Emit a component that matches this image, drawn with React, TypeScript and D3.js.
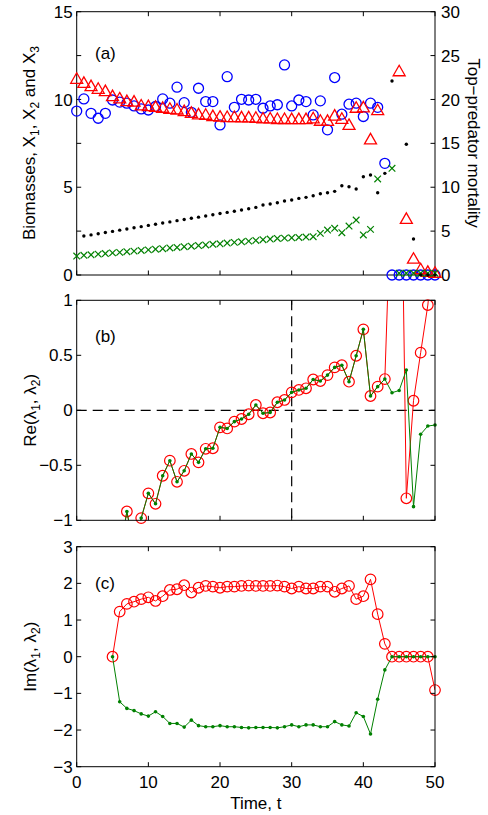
import React from "react";
import * as d3 from "d3";

// ---------- DATA ----------
const timesA = [0,1,2,3,4,5,6,7,8,9,10,11,12,13,14,15,16,17,18,19,20,21,22,23,24,25,26,27,28,29,30,31,32,33,34,35,36,37,38,39,40,41,42,43,44,45,46,47,48,49,50];
// X1 (blue circles), left axis
const biomassBlue: (number | null)[] = [9.34,10.03,9.21,8.93,9.21,9.97,9.85,9.79,9.63,9.46,9.40,9.60,10.03,9.79,10.70,9.82,9.27,10.64,9.88,9.88,8.55,11.30,9.55,10.01,9.97,10.01,9.50,9.63,9.70,11.97,9.63,9.97,9.88,9.12,9.92,8.27,11.25,9.16,9.73,9.79,9.03,9.79,9.55,6.36,0,0,0,0,0,0,0];
// X2 (red triangles), left axis
const biomassRed: (number | null)[] = [11.15,10.92,10.73,10.58,10.45,10.16,10.03,9.88,9.85,9.63,9.59,9.55,9.50,9.44,9.40,9.31,9.21,9.12,9.10,9.02,8.99,8.97,8.97,8.95,8.95,8.93,8.89,8.89,8.86,8.86,8.85,8.85,8.85,8.90,8.76,8.75,9.05,8.87,8.52,9.50,9.52,7.70,9.36,null,null,11.58,3.17,0.90,0.30,0.15,0.10];
// X3 (green crosses), left axis
const biomassGreen: (number | null)[] = [1.08,1.12,1.15,1.19,1.22,1.26,1.29,1.33,1.36,1.40,1.43,1.47,1.50,1.54,1.57,1.61,1.64,1.68,1.71,1.75,1.78,1.82,1.86,1.89,1.93,1.97,2.01,2.05,2.08,2.10,2.12,2.14,2.16,2.18,2.37,2.56,2.66,2.41,2.79,3.13,2.28,2.60,5.47,null,6.08,0.10,0.10,0.10,0.10,0.10,0.10];
// top-predator mortality (black dots), right axis
const mortality: (number | null)[] = [null,4.44,4.57,4.70,4.84,4.97,5.11,5.24,5.38,5.51,5.65,5.78,5.92,6.05,6.19,6.32,6.46,6.59,6.73,6.86,7.00,7.13,7.27,7.40,7.55,7.70,7.97,8.09,8.24,8.43,8.54,8.73,8.85,9.03,9.26,9.37,9.53,10.17,10.06,9.80,11.20,11.39,9.37,11.58,22.10,null,14.90,4.10,0,0,0];

const timesB = [5,6,7,8,9,10,11,12,13,14,15,16,17,18,19,20,21,22,23,24,25,26,27,28,29,30,31,32,33,34,35,36,37,38,39,40,41,42,43,44,45,46,47,48,49,50];
const reLambda1 = [-1.6,-1.3,-0.92,-1.25,-0.98,-0.755,-0.85,-0.595,-0.458,-0.65,-0.55,-0.397,-0.473,-0.35,-0.345,-0.155,-0.165,-0.103,-0.079,-0.036,0.048,-0.027,-0.02,0.073,0.094,0.163,0.185,0.2,0.28,0.266,0.32,0.39,0.41,0.26,0.496,0.736,0.13,0.215,0.284,2.2,3.7,-0.8,0.087,0.524,0.957,1.6];
const reLambda2 = [-1.4,-1.3,-0.92,-1.25,-0.98,-0.755,-0.85,-0.595,-0.458,-0.65,-0.55,-0.397,-0.473,-0.35,-0.345,-0.155,-0.165,-0.103,-0.079,-0.036,0.048,-0.027,-0.02,0.073,0.094,0.163,0.185,0.2,0.28,0.266,0.32,0.39,0.41,0.26,0.496,0.736,0.13,0.215,0.284,0.16,0.18,0.366,-0.876,-0.218,-0.143,-0.134];
const imLambda1 = [0,1.23,1.44,1.50,1.57,1.62,1.52,1.65,1.82,1.84,1.95,1.75,1.88,1.93,1.91,1.88,1.91,1.91,1.93,1.94,1.93,1.93,1.93,1.94,1.91,1.86,1.91,1.86,1.86,1.91,1.91,1.77,1.86,1.93,1.57,1.65,2.11,1.16,0.35,0,0,0,0,0,0,-0.91];
const imLambda2 = [0,-1.23,-1.41,-1.47,-1.56,-1.62,-1.50,-1.63,-1.82,-1.82,-1.92,-1.73,-1.88,-1.91,-1.91,-1.88,-1.91,-1.91,-1.93,-1.94,-1.93,-1.93,-1.93,-1.94,-1.91,-1.86,-1.91,-1.86,-1.86,-1.91,-1.91,-1.77,-1.86,-1.89,-1.53,-1.63,-2.11,-1.16,-0.36,0,0,0,0,0,0,0];

const xTicks = [0,10,20,30,40,50];
const yTicksA = [0,5,10,15];
const yTicksA2 = [0,5,10,15,20,25,30];
const yTicksB = [-1,-0.5,0,0.5,1];
const yTicksC = [-3,-2,-1,0,1,2,3];

// ---------- LAYOUT ----------
const W = 488, H = 815;
const L = 76.7, R = 435;
const FONT = "'Liberation Sans', Arial, Helvetica, sans-serif";
const FS = 17, SUB = 12;
const RED = "#ff0000", BLUE = "#0000ff", GREEN = "#008000";

const x = d3.scaleLinear().domain([0, 50]).range([L, R]);
const yA = d3.scaleLinear().domain([0, 15]).range([275, 11.7]);
const yA2 = d3.scaleLinear().domain([0, 30]).range([275, 11.7]);
const yB = d3.scaleLinear().domain([-1, 1]).range([520.3, 300.3]);
const yC = d3.scaleLinear().domain([-3, 3]).range([766.7, 546.7]);

const fmt = (v: number) => (v < 0 ? "\u2212" + String(Math.abs(v)) : String(v));
const TL = 4.5;

function Frame({ y, ys }: { y: d3.ScaleLinear<number, number>; ys: number[] }) {
  const [b, t] = y.range();
  return (
    <g>
      <rect x={L} y={t} width={R - L} height={b - t} fill="none" stroke="#000" strokeWidth={1} />
      {xTicks.map((v) => (
        <g key={"x" + v}>
          <line x1={x(v)} x2={x(v)} y1={b} y2={b - TL} stroke="#000" />
          <line x1={x(v)} x2={x(v)} y1={t} y2={t + TL} stroke="#000" />
        </g>
      ))}
      {ys.map((p, i) => (
        <g key={"y" + i}>
          <line x1={L} x2={L + TL} y1={p} y2={p} stroke="#000" />
          <line x1={R} x2={R - TL} y1={p} y2={p} stroke="#000" />
        </g>
      ))}
    </g>
  );
}

function YLabels({ y, ticks }: { y: d3.ScaleLinear<number, number>; ticks: number[] }) {
  return (
    <g fontSize={FS} fontFamily={FONT} textAnchor="end">
      {ticks.map((v) => (
        <text key={v} x={L - 4} y={y(v)} dy="0.36em">{fmt(v)}</text>
      ))}
    </g>
  );
}

function tri(cx: number, cy: number) {
  return `M${cx},${cy - 6.5}L${cx + 6},${cy + 4}L${cx - 6},${cy + 4}Z`;
}

function EigenPanel({ y, s1, s2, clipId }: { y: d3.ScaleLinear<number, number>; s1: number[]; s2: number[]; clipId: string }) {
  const [lo, hi] = y.domain();
  const line = d3.line<number>().x((_, i) => x(timesB[i])).y((v) => y(v));
  const inR = (v: number) => v >= lo - 1e-9 && v <= hi + 1e-9;
  return (
    <g>
      <g clipPath={`url(#${clipId})`}>
        <path d={line(s1) || ""} fill="none" stroke={RED} strokeWidth={1} />
      </g>
      {s1.map((v, i) => inR(v) ? <circle key={"r" + i} cx={x(timesB[i])} cy={y(v)} r={5.3} fill="none" stroke={RED} strokeWidth={1.2} /> : null)}
      <g clipPath={`url(#${clipId})`}>
        <path d={line(s2) || ""} fill="none" stroke={GREEN} strokeWidth={1} />
      </g>
      {s2.map((v, i) => inR(v) ? <circle key={"g" + i} cx={x(timesB[i])} cy={y(v)} r={1.8} fill={GREEN} /> : null)}
    </g>
  );
}

export default function App() {
  const gridA = [0, 2.5, 5, 7.5, 10, 12.5, 15].map((v) => yA(v));
  return (
    <svg width={W} height={H} style={{ position: "absolute", left: 0, top: 0, background: "#fff" }} fontFamily={FONT}>
      <defs>
        <clipPath id="clipB"><rect x={L} y={300.3} width={R - L} height={220} /></clipPath>
        <clipPath id="clipC"><rect x={L} y={546.7} width={R - L} height={220} /></clipPath>
      </defs>
      <rect x={0} y={0} width={W} height={H} fill="#fff" />

      {/* Panel (a) */}
      <Frame y={yA} ys={gridA} />
      <YLabels y={yA} ticks={yTicksA} />
      <g fontSize={FS} textAnchor="start">
        {yTicksA2.map((v) => (
          <text key={v} x={R + 6} y={yA2(v)} dy="0.36em">{v}</text>
        ))}
      </g>
      {biomassBlue.map((v, i) => v == null ? null : (
        <circle key={"b" + i} cx={x(timesA[i])} cy={yA(v)} r={5} fill="none" stroke={BLUE} strokeWidth={1.3} />
      ))}
      {biomassRed.map((v, i) => v == null ? null : (
        <path key={"t" + i} d={tri(x(timesA[i]), yA(v))} fill="none" stroke={RED} strokeWidth={1.3} />
      ))}
      {biomassGreen.map((v, i) => {
        if (v == null) return null;
        const cx = x(timesA[i]), cy = yA(v), s = 3.3;
        return (
          <g key={"x" + i} stroke={GREEN} strokeWidth={1.2}>
            <line x1={cx - s} y1={cy - s} x2={cx + s} y2={cy + s} />
            <line x1={cx - s} y1={cy + s} x2={cx + s} y2={cy - s} />
          </g>
        );
      })}
      {mortality.map((v, i) => v == null ? null : (
        <circle key={"m" + i} cx={x(timesA[i])} cy={yA2(v)} r={1.7} fill="#000" />
      ))}
      <text x={95} y={59} fontSize={FS}>(a)</text>
      <text transform="translate(35,143) rotate(-90)" textAnchor="middle" fontSize={FS}>
        Biomasses, X<tspan fontSize={SUB} dy={4}>1</tspan><tspan dy={-4}>, X</tspan><tspan fontSize={SUB} dy={4}>2</tspan><tspan dy={-4}> and X</tspan><tspan fontSize={SUB} dy={4}>3</tspan>
      </text>
      <text transform="translate(468,143) rotate(90)" textAnchor="middle" fontSize={FS}>Top{"\u2212"}predator mortality</text>

      {/* Panel (b) */}
      <line x1={L} x2={R} y1={yB(0)} y2={yB(0)} stroke="#000" strokeWidth={1.2} strokeDasharray="10 6" />
      <line x1={x(30)} x2={x(30)} y1={300.3} y2={520.3} stroke="#000" strokeWidth={1.2} strokeDasharray="10 6" />
      <EigenPanel y={yB} s1={reLambda1} s2={reLambda2} clipId="clipB" />
      <Frame y={yB} ys={yTicksB.map((v) => yB(v))} />
      <YLabels y={yB} ticks={yTicksB} />
      <text x={95} y={342} fontSize={FS}>(b)</text>
      <text transform={`translate(36,${yB(0)}) rotate(-90)`} textAnchor="middle" fontSize={FS}>
        Re({"\u03bb"}<tspan fontSize={SUB} dy={4}>1</tspan><tspan dy={-4}>, {"\u03bb"}</tspan><tspan fontSize={SUB} dy={4}>2</tspan><tspan dy={-4}>)</tspan>
      </text>

      {/* Panel (c) */}
      <EigenPanel y={yC} s1={imLambda1} s2={imLambda2} clipId="clipC" />
      <Frame y={yC} ys={yTicksC.map((v) => yC(v))} />
      <YLabels y={yC} ticks={yTicksC} />
      <g fontSize={FS} textAnchor="middle">
        {xTicks.map((v) => (
          <text key={v} x={x(v)} y={788}>{v}</text>
        ))}
      </g>
      <text x={95} y={589} fontSize={FS}>(c)</text>
      <text transform={`translate(36,${yC(0)}) rotate(-90)`} textAnchor="middle" fontSize={FS}>
        Im({"\u03bb"}<tspan fontSize={SUB} dy={4}>1</tspan><tspan dy={-4}>, {"\u03bb"}</tspan><tspan fontSize={SUB} dy={4}>2</tspan><tspan dy={-4}>)</tspan>
      </text>
      <text x={(L + R) / 2} y={809} textAnchor="middle" fontSize={FS}>Time, t</text>
    </svg>
  );
}
